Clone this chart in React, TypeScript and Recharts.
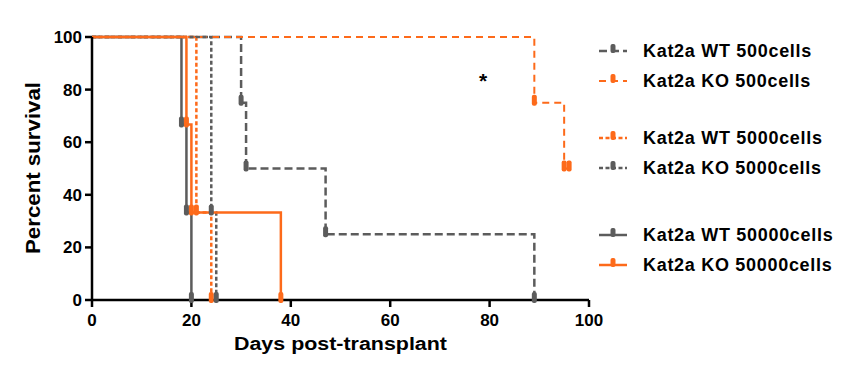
import { LineChart, Line, XAxis, YAxis } from "recharts";

const GRAY = "#5c5c5c";
const ORANGE = "#fd6a1a";
const FONT = "'Liberation Sans', Arial, sans-serif";

// Kaplan-Meier steps: day of event and survival (%) after it
const wt500Days = [0, 30, 31, 47, 89];
const wt500Surv = [100, 75, 50, 25, 0];
const ko500Days = [0, 89, 95, 96];
const ko500Surv = [100, 75, 50, 50];
const wt5000Days = [0, 21, 24];
const wt5000Surv = [100, 33.3, 0];
const ko5000Days = [0, 24, 25];
const ko5000Surv = [100, 33.3, 0];
const wt50000Days = [0, 18, 19, 20];
const wt50000Surv = [100, 66.7, 33.3, 0];
const ko50000Days = [0, 19, 20, 38];
const ko50000Surv = [100, 66.7, 33.3, 0];

const xTicks = [0, 20, 40, 60, 80, 100];
const yTicks = [0, 20, 40, 60, 80, 100];

const toPoints = (days: number[], surv: number[]) =>
	days.map((d, i) => ({ day: d, surv: surv[i] }));

interface SeriesDef {
	name: string;
	points: { day: number; surv: number }[];
	color: string;
	dash?: string;
	width: number;
}

const series: SeriesDef[] = [
	{ name: "Kat2a WT 500cells", points: toPoints(wt500Days, wt500Surv), color: GRAY, dash: "8 4", width: 2.5 },
	{ name: "Kat2a KO 500cells", points: toPoints(ko500Days, ko500Surv), color: ORANGE, dash: "7 5", width: 2 },
	{ name: "Kat2a WT 5000cells", points: toPoints(wt5000Days, wt5000Surv), color: ORANGE, dash: "4 2.5", width: 2.5 },
	{ name: "Kat2a KO 5000cells", points: toPoints(ko5000Days, ko5000Surv), color: GRAY, dash: "4 2.5", width: 2.5 },
	{ name: "Kat2a WT 50000cells", points: toPoints(wt50000Days, wt50000Surv), color: GRAY, width: 2.5 },
	{ name: "Kat2a KO 50000cells", points: toPoints(ko50000Days, ko50000Surv), color: ORANGE, width: 2.5 },
];

// vertical centre of each legend row
const legendRows = [50.5, 80.5, 138, 167.5, 235, 265];

const makeDot = (color: string) => (props: any) => {
	const { cx, cy, index } = props;
	if (index === 0 || cx == null || cy == null) return <g key={`d${index}`} />;
	return (
		<rect
			key={`d${index}`}
			x={cx - 2.5}
			y={cy - 8}
			width={5}
			height={11}
			rx={2}
			fill={color}
		/>
	);
};

const tickStyle = { fill: "#000", fontSize: 17, fontWeight: "bold", fontFamily: FONT };

export default function App() {
	return (
		<div
			style={{
				position: "absolute",
				left: 0,
				top: 0,
				width: 850,
				height: 381,
				background: "#fff",
				fontFamily: FONT,
			}}>
			<LineChart
				width={850}
				height={381}
				margin={{ top: 37, right: 261, bottom: 0, left: 0 }}>
				<XAxis
					dataKey="day"
					type="number"
					domain={[0, 100]}
					ticks={xTicks}
					interval={0}
					height={81}
					tickSize={7}
					tickMargin={7}
					tick={tickStyle}
					axisLine={{ stroke: "#000", strokeWidth: 2.5 }}
					tickLine={{ stroke: "#000", strokeWidth: 2.5 }}
					label={{
						content: (p: any) => {
							const vb = p.viewBox || { x: 92, width: 497 };
							return (
								<text
									x={vb.x + vb.width / 2}
									y={350}
									textAnchor="middle"
									fontSize={18}
									fontWeight="bold"
									fontFamily={FONT}
									textLength={213}
									lengthAdjust="spacingAndGlyphs"
									fill="#000">
									Days post-transplant
								</text>
							);
						},
					}}
				/>
				<YAxis
					type="number"
					domain={[0, 100]}
					ticks={yTicks}
					interval={0}
					width={92}
					tickSize={7}
					tickMargin={3}
					tick={tickStyle}
					axisLine={{ stroke: "#000", strokeWidth: 2.5 }}
					tickLine={{ stroke: "#000", strokeWidth: 2.5 }}
					label={{
						content: () => (
							<text
								x={40}
								y={168}
								transform="rotate(-90, 40, 168)"
								textAnchor="middle"
								fontSize={20}
								fontWeight="bold"
								fontFamily={FONT}
								textLength={172}
								lengthAdjust="spacingAndGlyphs"
								fill="#000">
								Percent survival
							</text>
						),
					}}
				/>
				{series.map((s) => (
					<Line
						key={s.name}
						name={s.name}
						data={s.points}
						dataKey="surv"
						type="stepAfter"
						stroke={s.color}
						strokeWidth={s.width}
						strokeDasharray={s.dash}
						dot={makeDot(s.color)}
						activeDot={false}
						isAnimationActive={false}
					/>
				))}
			</LineChart>

			<span
				style={{
					position: "absolute",
					left: 479,
					top: 70,
					fontSize: 21,
					lineHeight: "21px",
					fontWeight: "bold",
				}}>
				*
			</span>

			{series.map((s, i) => (
				<div
					key={s.name}
					style={{
						position: "absolute",
						left: 598,
						top: legendRows[i] - 11,
						height: 22,
						display: "flex",
						alignItems: "center",
						whiteSpace: "nowrap",
					}}>
					<svg width={30} height={22}>
						<line
							x1={1}
							y1={11}
							x2={29}
							y2={11}
							stroke={s.color}
							strokeWidth={s.width}
							strokeDasharray={s.dash}
						/>
						<rect x={12.5} y={4} width={5} height={9} rx={2} fill={s.color} />
					</svg>
					<span
						style={{
							marginLeft: 15,
							fontSize: 18,
							lineHeight: "22px",
							fontWeight: "bold",
							letterSpacing: 0.7,
							color: "#000",
						}}>
						{s.name}
					</span>
				</div>
			))}
		</div>
	);
}
